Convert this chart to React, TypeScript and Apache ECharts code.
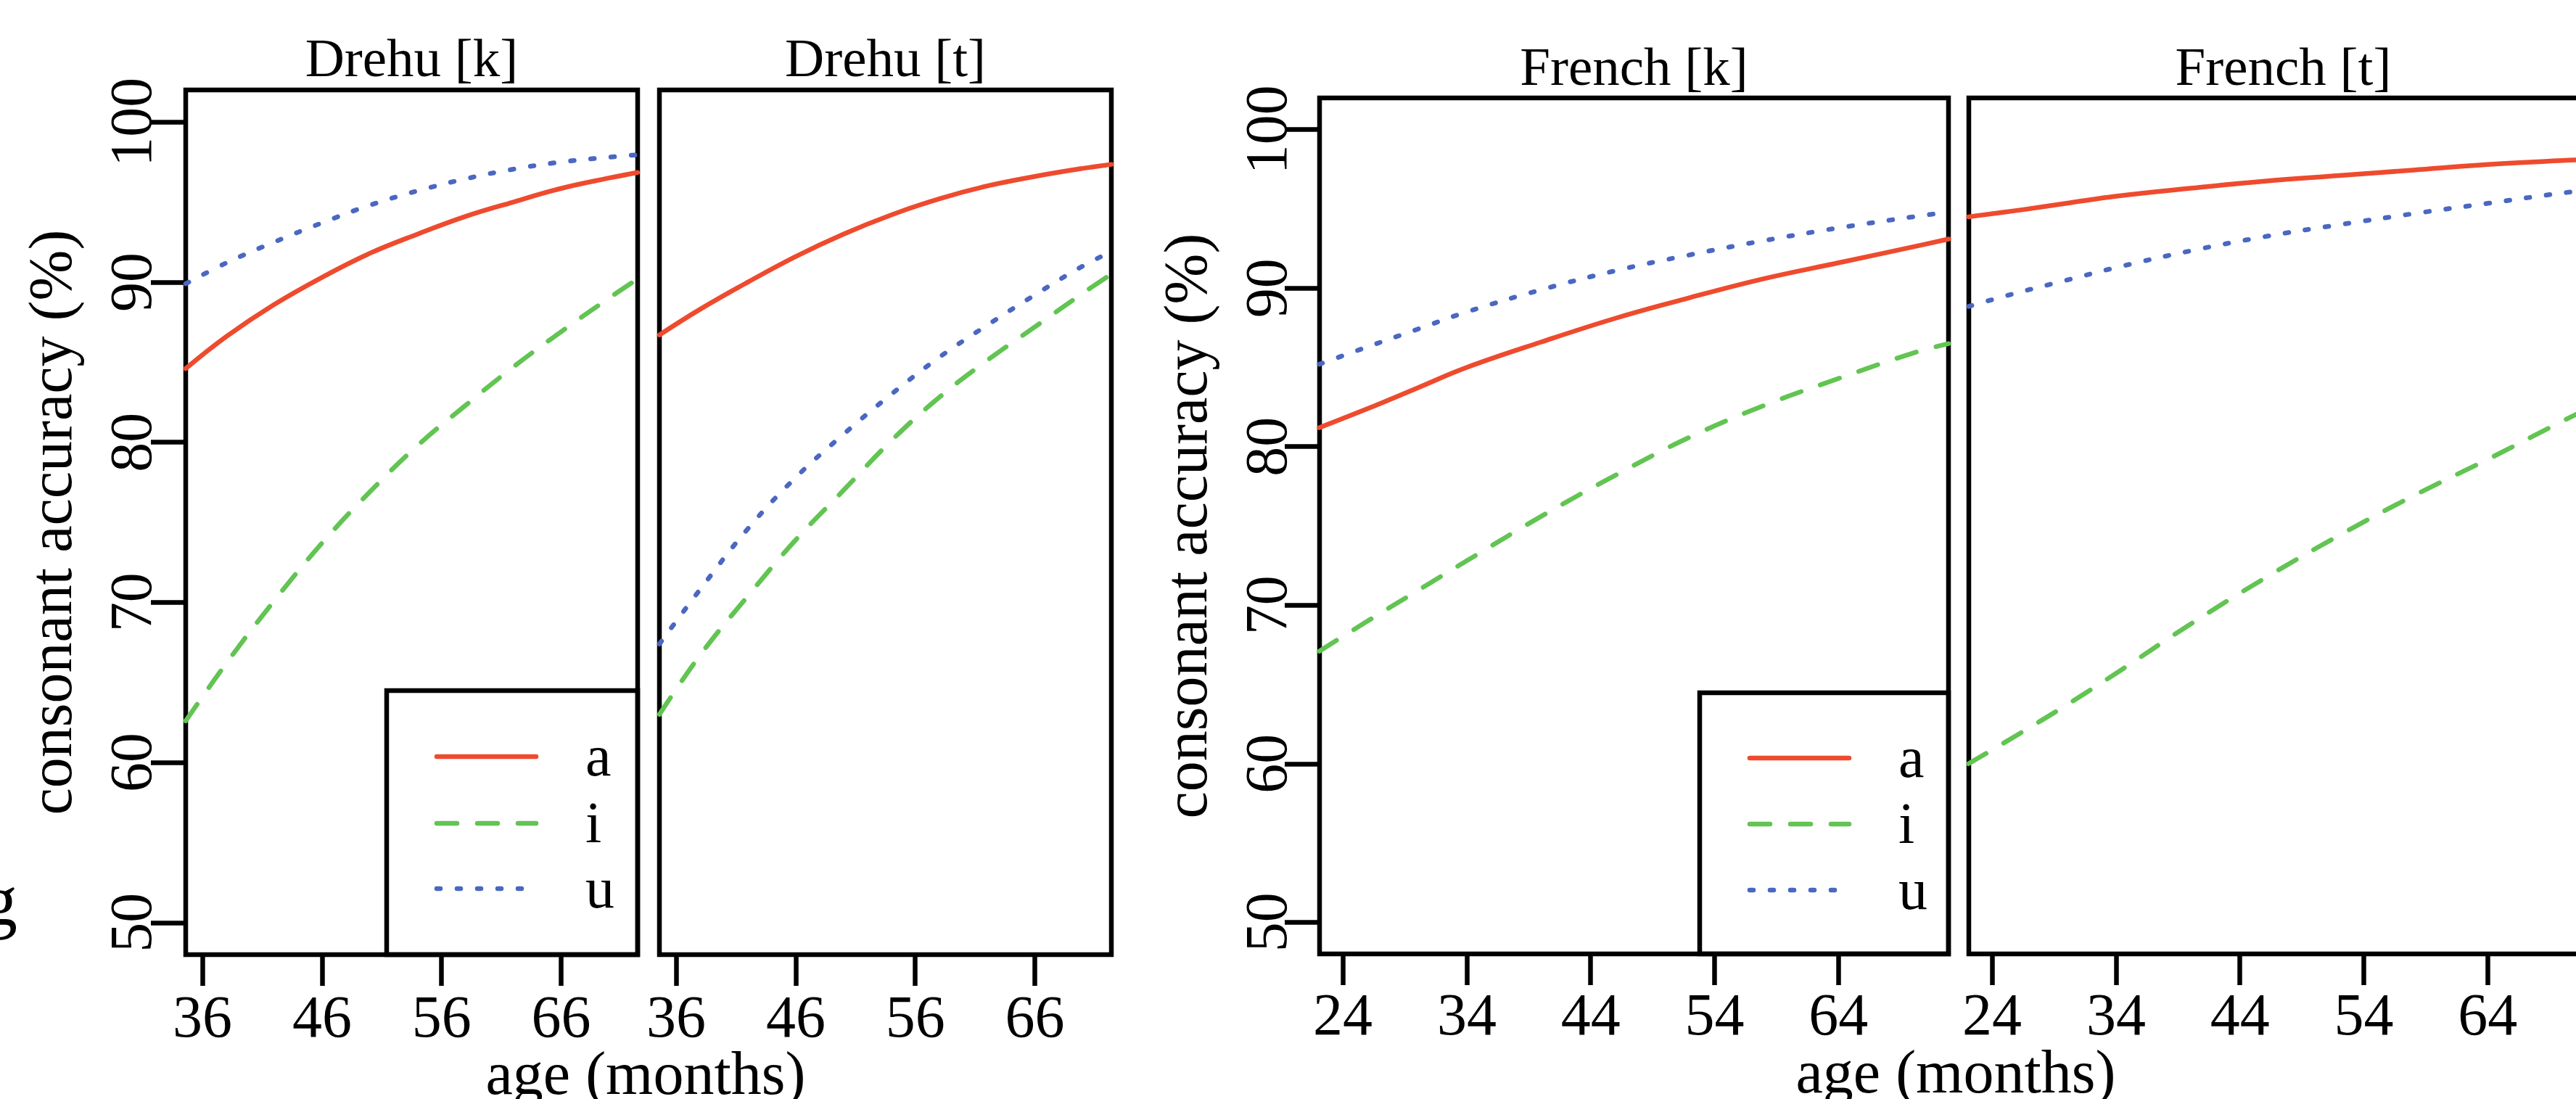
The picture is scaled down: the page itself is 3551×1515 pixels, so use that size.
import React, { useEffect, useRef } from "react";
import * as echarts from "echarts";

// ---------- data ----------
const drehuAges = [34.6, 38, 42, 46, 50, 54, 58, 62, 66, 70, 72.4];
const frenchAges = [22.1, 26, 30, 34, 40, 46, 52, 58, 64, 70, 72.9];

const drehuK_a = [84.6, 86.6, 88.6, 90.3, 91.8, 93.0, 94.1, 95.0, 95.85, 96.5, 96.85];
const drehuK_i = [62.6, 66.2, 70.1, 73.7, 76.9, 79.8, 82.3, 84.7, 86.9, 89.0, 90.2];
const drehuK_u = [89.9, 91.2, 92.5, 93.7, 94.8, 95.7, 96.45, 97.05, 97.5, 97.8, 97.95];

const drehuT_a = [86.7, 88.3, 90.0, 91.6, 93.0, 94.2, 95.2, 96.0, 96.6, 97.1, 97.35];
const drehuT_i = [63.0, 66.7, 70.4, 73.9, 77.0, 80.1, 82.8, 85.1, 87.2, 89.3, 90.5];
const drehuT_u = [67.4, 70.8, 74.6, 77.8, 80.5, 83.0, 85.3, 87.3, 89.2, 91.0, 91.9];

const frenchK_a = [81.2, 82.4, 83.7, 85.0, 86.6, 88.1, 89.4, 90.6, 91.6, 92.6, 93.1];
const frenchK_i = [67.1, 69.0, 70.9, 72.8, 75.6, 78.2, 80.6, 82.6, 84.3, 85.9, 86.5];
const frenchK_u = [85.2, 86.3, 87.4, 88.5, 89.9, 91.1, 92.1, 93.0, 93.8, 94.5, 94.8];

const frenchT_a = [94.5, 94.9, 95.35, 95.8, 96.3, 96.75, 97.1, 97.45, 97.8, 98.05, 98.15];
const frenchT_i = [60.0, 61.8, 63.7, 65.7, 68.8, 71.7, 74.4, 76.9, 79.2, 81.6, 82.7];
const frenchT_u = [88.85, 89.7, 90.5, 91.3, 92.35, 93.25, 94.0, 94.7, 95.35, 96.0, 96.25];

const drehuTicks = [36, 46, 56, 66];
const frenchTicks = [24, 34, 44, 54, 64];
const yTicks = [50, 60, 70, 80, 90, 100];

const vowels = ["a", "i", "u"];
const panelTitles = ["Drehu [k]", "Drehu [t]", "French [k]", "French [t]"];
const yTitle = "consonant accuracy (%)";
const xTitle = "age (months)";

// ---------- styles / layout ----------
const FONT = "Liberation Serif";
const COLORS: Record<string, string> = { a: "#EE4B2E", i: "#62C452", u: "#4A67C1" };
const DASH: Record<string, any> = { a: "solid", i: [28, 28], u: [5, 23] };
const LW = 6.5;
const TICK_FONT = 82;

const panels = [
  { left: 256, top: 124, width: 623, height: 1192, xmin: 34.6, xmax: 72.4, ticks: drehuTicks, showY: true, nameGap: 145, labelMargin: 44, yMargin: 35, ages: drehuAges, vals: [drehuK_a, drehuK_i, drehuK_u], titleY: 79 },
  { left: 909, top: 124, width: 623, height: 1192, xmin: 34.6, xmax: 72.4, ticks: drehuTicks, showY: false, nameGap: 145, labelMargin: 44, yMargin: 35, ages: drehuAges, vals: [drehuT_a, drehuT_i, drehuT_u], titleY: 79 },
  { left: 1819, top: 135, width: 867, height: 1180, xmin: 22.12, xmax: 72.88, ticks: frenchTicks, showY: true, nameGap: 143, labelMargin: 42, yMargin: 33, ages: frenchAges, vals: [frenchK_a, frenchK_i, frenchK_u], titleY: 91 },
  { left: 2714, top: 135, width: 867, height: 1180, xmin: 22.12, xmax: 72.88, ticks: frenchTicks, showY: false, nameGap: 143, labelMargin: 42, yMargin: 33, ages: frenchAges, vals: [frenchT_a, frenchT_i, frenchT_u], titleY: 91 },
];

const legends = [
  { x: 533, y: 952, w: 346, h: 364, rows: [1043, 1135, 1225] },
  { x: 2343, y: 955, w: 343, h: 360, rows: [1045, 1136, 1227] },
];

function textEl(text: string, x: number, y: number, size: number, align: string, rotation = 0) {
  return {
    type: "text",
    x,
    y,
    rotation,
    silent: true,
    z: 100,
    style: {
      text,
      fill: "#000",
      fontSize: size,
      fontFamily: FONT,
      align,
      textAlign: align,
      verticalAlign: "middle",
      textVerticalAlign: "middle",
    },
  };
}

function buildOption() {
  const grid = panels.map((p) => ({
    show: true,
    left: p.left,
    top: p.top,
    width: p.width,
    height: p.height,
    borderColor: "#000",
    borderWidth: LW,
    backgroundColor: "transparent",
    containLabel: false,
    outerBoundsMode: "none",
  }));

  const xAxis = panels.map((p, idx) => ({
    type: "value",
    gridIndex: idx,
    min: p.xmin,
    max: p.xmax,
    position: "bottom",
    axisLine: { show: false },
    splitLine: { show: false },
    axisTick: { show: true, customValues: p.ticks, length: 43, lineStyle: { color: "#000", width: LW } },
    axisLabel: {
      customValues: p.ticks,
      margin: p.labelMargin,
      fontSize: TICK_FONT,
      fontFamily: FONT,
      color: "#000",
    },
  }));

  const yAxis = panels.map((p, idx) => ({
    type: "value",
    gridIndex: idx,
    min: 48,
    max: 102,
    show: p.showY,
    position: "left",
    name: p.showY ? yTitle : "",
    nameLocation: "middle",
    nameRotate: 90,
    nameGap: p.nameGap,
    nameTextStyle: { fontSize: 84, fontFamily: FONT, color: "#000" },
    axisLine: { show: false },
    splitLine: { show: false },
    axisTick: { show: true, customValues: yTicks, length: 48, lineStyle: { color: "#000", width: LW } },
    axisLabel: {
      customValues: yTicks,
      rotate: 90,
      margin: p.yMargin,
      fontSize: TICK_FONT,
      fontFamily: FONT,
      color: "#000",
    },
  }));

  const series: any[] = [];
  panels.forEach((p, idx) => {
    vowels.forEach((v, k) => {
      series.push({
        type: "line",
        name: v,
        xAxisIndex: idx,
        yAxisIndex: idx,
        data: p.ages.map((a, j) => [a, p.vals[k][j]]),
        smooth: 0.4,
        symbol: "none",
        showSymbol: false,
        clip: true,
        silent: true,
        lineStyle: { color: COLORS[v], width: LW, type: DASH[v], cap: "round", join: "round" },
        z: 2,
      });
    });
  });

  const graphic: any[] = [];
  panels.forEach((p, idx) => {
    graphic.push(textEl(panelTitles[idx], p.left + p.width / 2, p.titleY, 75, "center"));
  });
  graphic.push(textEl(xTitle, 890, 1479, 84, "center"));
  graphic.push(textEl(xTitle, 2696, 1477, 84, "center"));
  graphic.push(textEl("g", 24, 1241, 100, "right"));

  legends.forEach((L) => {
    graphic.push({
      type: "rect",
      silent: true,
      z: 90,
      shape: { x: L.x, y: L.y, width: L.w, height: L.h },
      style: { fill: "transparent", stroke: "#000", lineWidth: LW },
    });
    vowels.forEach((v, k) => {
      const ry = L.rows[k];
      const dash = DASH[v];
      graphic.push({
        type: "line",
        silent: true,
        z: 95,
        shape: { x1: L.x + 69, y1: ry, x2: L.x + 206, y2: ry },
        style: {
          stroke: COLORS[v],
          lineWidth: LW,
          lineDash: Array.isArray(dash) ? dash : null,
          lineCap: "round",
        },
      });
      graphic.push(textEl(v, L.x + 274, ry - 1, 80, "left"));
    });
  });

  return {
    animation: false,
    backgroundColor: "#ffffff",
    textStyle: { fontFamily: FONT },
    grid,
    xAxis,
    yAxis,
    series,
    graphic,
  };
}

export default function App() {
  const ref = useRef<HTMLDivElement>(null);
  useEffect(() => {
    document.body.style.margin = "0";
    const chart = echarts.init(ref.current as HTMLDivElement, null, { renderer: "svg", width: 3551, height: 1515 });
    chart.setOption(buildOption() as any);
    return () => chart.dispose();
  }, []);
  return (
    <div
      ref={ref}
      style={{ position: "fixed", left: 0, top: 0, width: 3551, height: 1515, background: "#fff", overflow: "hidden" }}
    />
  );
}
